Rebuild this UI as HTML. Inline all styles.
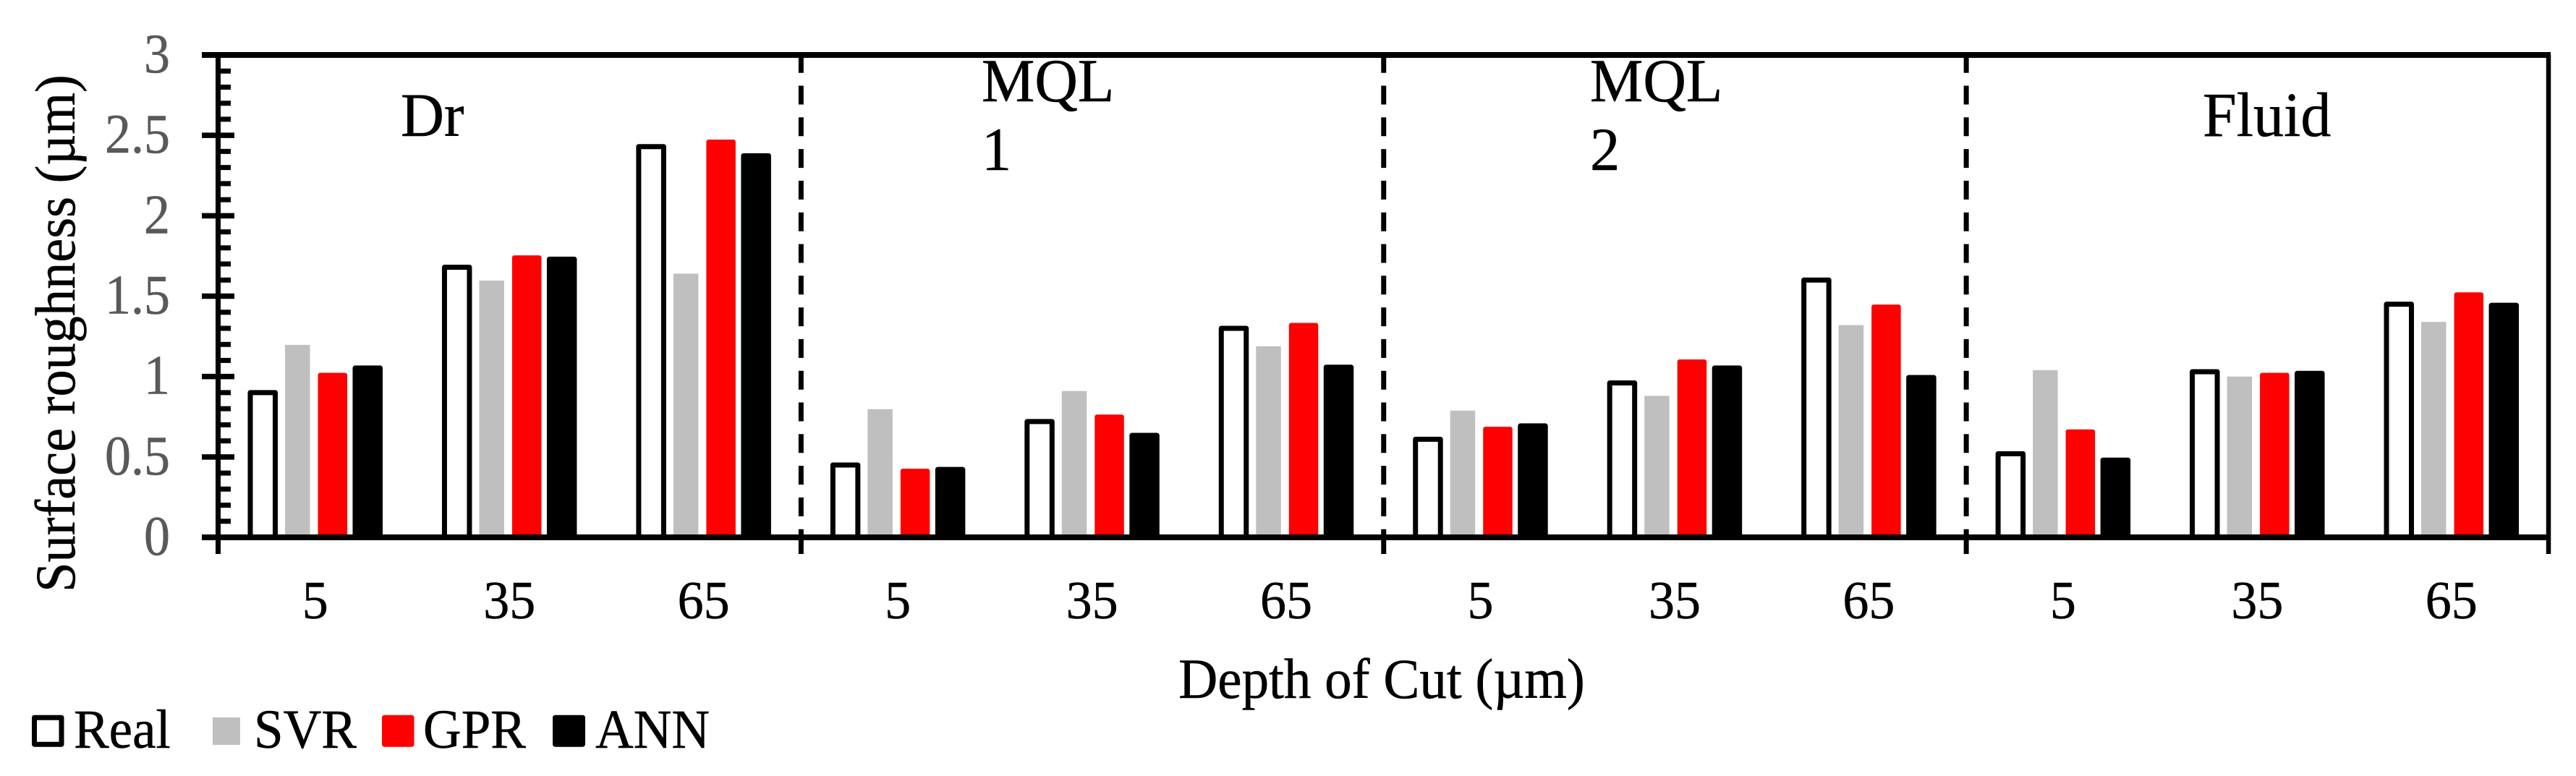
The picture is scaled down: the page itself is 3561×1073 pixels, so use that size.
<!DOCTYPE html>
<html lang="en">
<head>
<meta charset="utf-8">
<title>Surface roughness by depth of cut</title>
<style>
html,body{margin:0;padding:0;background:#fff;width:3561px;height:1073px;overflow:hidden}
svg{display:block}
text{font-family:"Liberation Serif","Times New Roman",serif;fill:#000;stroke:#000;stroke-width:.5}
text.gray{fill:#595959;stroke:#595959}
</style>
</head>
<body>
<svg id="chart" xmlns="http://www.w3.org/2000/svg" width="3561" height="1073" viewBox="0 0 3561 1073"></svg>
<script>
const categories = ["5","35","65","5","35","65","5","35","65","5","35","65"];
const realValues = [0.90,1.68,2.43,0.45,0.72,1.30,0.61,0.96,1.60,0.52,1.03,1.45];
const svrValues = [1.197,1.597,1.64,0.797,0.91,1.188,0.788,0.88,1.32,1.04,1.00,1.34];
const gprValues = [1.01,1.74,2.46,0.413,0.75,1.32,0.674,1.093,1.434,0.658,1.01,1.51];
const annValues = [1.053,1.73,2.373,0.422,0.634,1.058,0.693,1.053,0.994,0.48,1.02,1.443];
const yTickLabels = ["0","0.5","1","1.5","2","2.5","3"];
const yMax = 3;
const minorStep = 0.1;

const svg = document.getElementById('chart');
const NS = 'http://www.w3.org/2000/svg';
const left = 301.5, right = 3523, top_ = 76, base = 743, tickEnd = 766;

function mk(tag, attrs, text) {
  const el = document.createElementNS(NS, tag);
  for (const k in attrs) el.setAttribute(k, attrs[k]);
  if (text !== undefined) el.textContent = text;
  svg.appendChild(el);
  return el;
}
function label(str, x, y, size, k, anchor, cls) {
  const attrs = {'font-size': size, 'text-anchor': anchor || 'start',
    transform: 'translate(' + x + ' ' + y + ') scale(1 ' + k + ')'};
  if (cls) attrs['class'] = cls;
  return mk('text', attrs, str);
}
function yScale(v) { return base - (v / yMax) * (base - top_); }
function catWidth() { return (right - left) / categories.length; }
function catCenter(i) { return left + catWidth() * (i + 0.5); }

const seriesDefs = [
  {key:'real', values:realValues, offset:-72.5, fill:'#fff', stroke:'#000', sw:7},
  {key:'svr', values:svrValues, offset:-24.5, fill:'#BFBFBF', stroke:'none', sw:0},
  {key:'gpr', values:gprValues, offset:24, fill:'#FF0000', stroke:'#FF0000', sw:6},
  {key:'ann', values:annValues, offset:72.5, fill:'#000', stroke:'#000', sw:7}
];
const barW = 34.5;

seriesDefs.forEach(function (s) {
  s.values.forEach(function (v, i) {
    const y = yScale(v);
    const r = mk('rect', {x: catCenter(i) + s.offset - barW / 2, y: y, width: barW, height: base - y,
      fill: s.fill, stroke: s.stroke, 'stroke-width': s.sw, 'stroke-linejoin': 'round'});
    
    
  });
});

// group dividers
[3, 6, 9].forEach(function (c) {
  const x = left + catWidth() * c + 0.5;
  const d = mk('line', {x1: x, x2: x, y1: 74.7, y2: base, stroke: '#000', 'stroke-width': 7, 'stroke-dasharray': '26 17.8'});
  
  
  const t = mk('line', {x1: x, x2: x, y1: base, y2: tickEnd, stroke: '#000', 'stroke-width': 7});
  
  
});

// frame lines
let el;
el = mk('line', {x1: 279, x2: right + 3, y1: top_, y2: top_, stroke: '#000', 'stroke-width': 8});


el = mk('line', {x1: 279, x2: right + 3, y1: base, y2: base, stroke: '#000', 'stroke-width': 8});


el = mk('line', {x1: left, x2: left, y1: top_, y2: tickEnd, stroke: '#000', 'stroke-width': 7});


el = mk('line', {x1: right, x2: right, y1: top_, y2: tickEnd, stroke: '#000', 'stroke-width': 6.5});



// y ticks
const nMinor = Math.round(yMax / minorStep);
for (let i = 0; i <= nMinor; i++) {
  const v = i * minorStep;
  const y = yScale(v);
  if (i % 5 === 0) {
    const t = mk('line', {x1: 279, x2: 324, y1: y, y2: y, stroke: '#000', 'stroke-width': 7.5});
    
    
  } else {
    const t = mk('line', {x1: left, x2: 319, y1: y, y2: y, stroke: '#000', 'stroke-width': 7});
    
    
  }
}

// y tick labels
yTickLabels.forEach(function (lab, i) {
  const t = label(lab, 235, yScale(i * 0.5) + 24, 72, 1.07, 'end', 'gray');
  
  
});

// x tick labels
categories.forEach(function (lab, i) {
  const t = label(lab, catCenter(i), 855, 72, 1.03, 'middle');
  
  
});

// axis titles
el = mk('text', {'text-anchor': 'middle', 'font-size': 78, transform: 'translate(103 461) rotate(-90) scale(0.953 1)'}, 'Surface roughness (\u00B5m)');


el = label('Depth of Cut (\u00B5m)', 1910, 965, 75, 1.05, 'middle');



// group labels
el = label('Dr', 554, 188, 83, 1.03);


el = label('MQL', 1357, 140, 82.5, 1.03);


el = label('1', 1357, 235, 82.5, 1.03);


el = label('MQL', 2198, 140, 82.5, 1.03);


el = label('2', 2198, 235, 82.5, 1.03);


el = label('Fluid', 3045, 188, 84, 1.03);



// legend
el = mk('rect', {x: 47.5, y: 992.2, width: 37.5, height: 37, fill: '#fff', stroke: '#000', 'stroke-width': 7, 'stroke-linejoin': 'round'});


el = label('Real', 102, 1034, 73, 1.04);


el = mk('rect', {x: 294, y: 992, width: 38, height: 38, fill: '#BFBFBF'});


el = label('SVR', 351, 1034, 73, 1.04);


el = mk('rect', {x: 531.5, y: 992.2, width: 37.5, height: 37, fill: '#FF0000', stroke: '#FF0000', 'stroke-width': 7, 'stroke-linejoin': 'round'});


el = label('GPR', 585, 1034, 73, 1.04);


el = mk('rect', {x: 767.5, y: 992.2, width: 38, height: 37, fill: '#000', stroke: '#000', 'stroke-width': 7, 'stroke-linejoin': 'round'});


el = label('ANN', 823, 1034, 73, 1.04);


</script>
</body>
</html>
